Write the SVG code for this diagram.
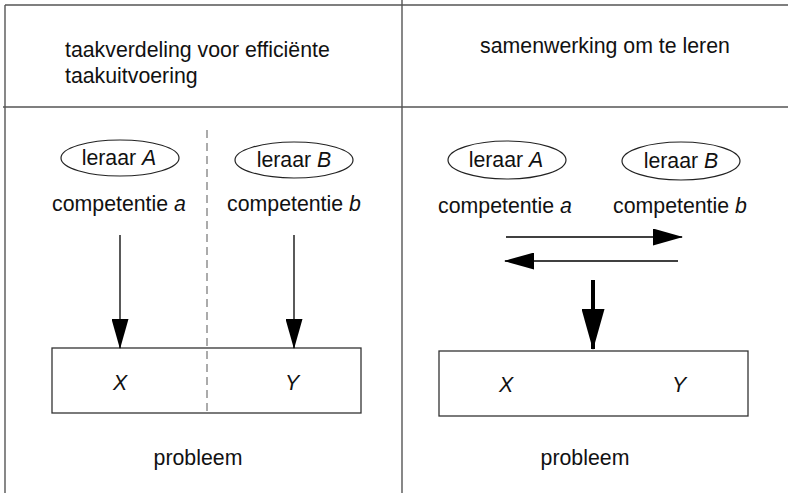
<svg xmlns="http://www.w3.org/2000/svg" width="788" height="493" viewBox="0 0 788 493">
<style>
  text { font-family: "Liberation Sans", Arial, sans-serif; font-size: 21.3px; fill: #111; }
  .frame { stroke: #555; stroke-width: 1.4; fill: none; }
  .dash { stroke: #888; stroke-width: 1.4; stroke-dasharray: 8 5; fill: none; }
  .node { fill: #fff; stroke: #222; stroke-width: 1.2; }
  .box { fill: none; stroke: #333; stroke-width: 1.3; }
  .conn { stroke: #000; stroke-width: 1.3; fill: none; }
  .thick { stroke: #000; stroke-width: 4; fill: none; }
  .mid { text-anchor: middle; }
</style>
<defs>
  <marker id="arr" markerUnits="userSpaceOnUse" markerWidth="30" markerHeight="17" refX="29" refY="8.5" orient="auto">
    <path d="M0,0 L30,8.5 L0,17 z" fill="#000"/>
  </marker>
  <marker id="arrBig" markerUnits="userSpaceOnUse" markerWidth="41" markerHeight="23" refX="40" refY="11.5" orient="auto">
    <path d="M0,0 L41,11.5 L0,23 z" fill="#000"/>
  </marker>
</defs>
<rect width="788" height="493" fill="#fff"/>

<g id="frame">
  <line class="frame" x1="5" y1="5" x2="788" y2="5"/>
  <line class="frame" x1="5" y1="5" x2="5" y2="493"/>
  <line class="frame" x1="402" y1="0" x2="402" y2="493"/>
  <line class="frame" x1="3" y1="107" x2="788" y2="107"/>
  <line class="dash" x1="207" y1="130" x2="207" y2="416"/>
</g>

<g id="header-left">
  <text x="65" y="57">taakverdeling voor efficiënte</text>
  <text x="65" y="83">taakuitvoering</text>
</g>
<g id="header-right">
  <text x="605" y="53" class="mid">samenwerking om te leren</text>
</g>

<g id="left-teacherA">
  <ellipse class="node" cx="120" cy="158" rx="59" ry="18"/>
  <text x="119" y="165" class="mid">leraar <tspan font-style="italic">A</tspan></text>
  <text x="119" y="211" class="mid">competentie <tspan font-style="italic">a</tspan></text>
</g>
<g id="left-teacherB">
  <ellipse class="node" cx="294" cy="160" rx="59" ry="18"/>
  <text x="294" y="167" class="mid">leraar <tspan font-style="italic">B</tspan></text>
  <text x="294" y="211" class="mid">competentie <tspan font-style="italic">b</tspan></text>
</g>
<g id="left-problem">
  <rect class="box" x="52" y="348" width="309" height="65"/>
  <text x="120" y="390" class="mid" font-style="italic">X</text>
  <text x="292" y="390" class="mid" font-style="italic">Y</text>
  <text x="198" y="465" class="mid">probleem</text>
</g>

<g id="right-teacherA">
  <ellipse class="node" cx="507" cy="160" rx="59" ry="19"/>
  <text x="506" y="167" class="mid">leraar <tspan font-style="italic">A</tspan></text>
  <text x="505" y="213" class="mid">competentie <tspan font-style="italic">a</tspan></text>
</g>
<g id="right-teacherB">
  <ellipse class="node" cx="681" cy="161" rx="59" ry="19"/>
  <text x="681" y="168" class="mid">leraar <tspan font-style="italic">B</tspan></text>
  <text x="680" y="213" class="mid">competentie <tspan font-style="italic">b</tspan></text>
</g>
<g id="right-problem">
  <rect class="box" x="439" y="351" width="309" height="65"/>
  <text x="506" y="392" class="mid" font-style="italic">X</text>
  <text x="679" y="392" class="mid" font-style="italic">Y</text>
  <text x="585" y="465" class="mid">probleem</text>
</g>

<g id="connectors">
  <line class="conn" x1="120" y1="235" x2="120" y2="348" marker-end="url(#arr)"/>
  <line class="conn" x1="294" y1="235" x2="294" y2="348" marker-end="url(#arr)"/>
  <line class="conn" x1="506" y1="237" x2="682" y2="237" marker-end="url(#arr)"/>
  <line class="conn" x1="678" y1="261" x2="505" y2="261" marker-end="url(#arr)"/>
  <line class="thick" x1="593" y1="280" x2="593" y2="349" marker-end="url(#arrBig)"/>
</g>
</svg>
